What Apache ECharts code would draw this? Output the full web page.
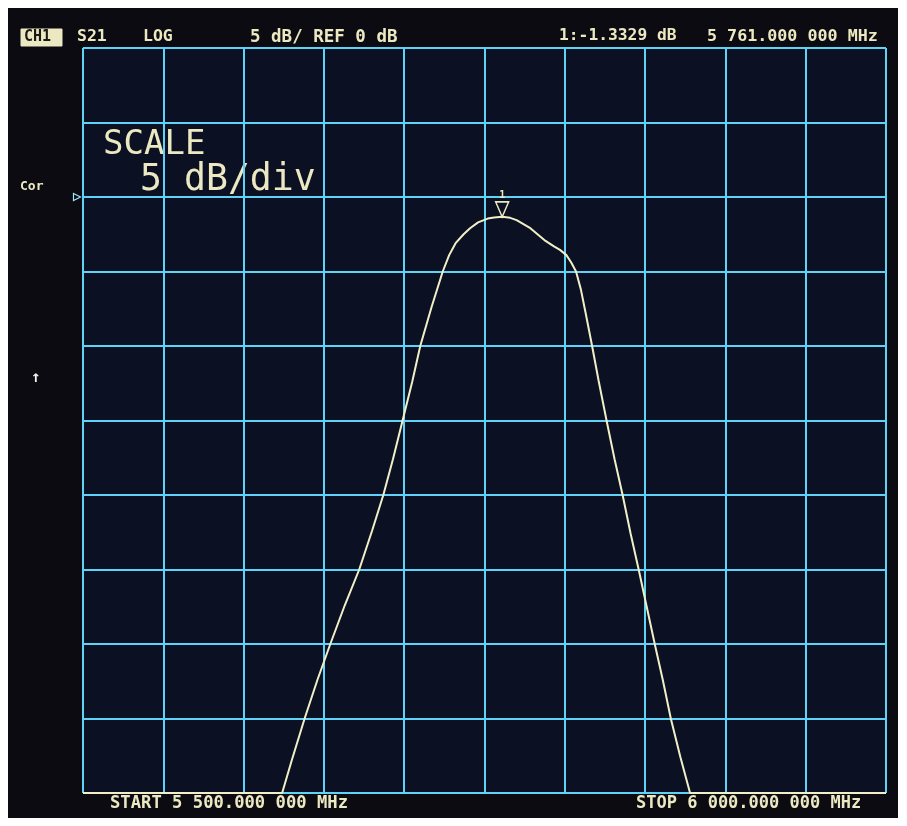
<!DOCTYPE html>
<html>
<head>
<meta charset="utf-8">
<script src="https://cdn.jsdelivr.net/npm/echarts@6/dist/echarts.min.js"></script>
<style>
  html, body { margin: 0; padding: 0; background: #ffffff; }
  #chart { width: 907px; height: 826px; }
</style>
</head>
<body>
<div id="chart"></div>
<script>
// S21 sweep, 5500–6000 MHz, log magnitude in dB (display floor -40 dB)
const freqMHz = [
  5500, 5550, 5600, 5624, 5630, 5638, 5646, 5654, 5663, 5672, 5680, 5687,
  5693, 5699, 5705, 5710, 5717, 5724, 5728, 5732, 5737, 5741, 5746, 5752,
  5756, 5761, 5766, 5770, 5774, 5778, 5783, 5788, 5793, 5797, 5801, 5804,
  5807, 5810, 5813, 5817, 5821, 5826, 5831, 5836, 5841, 5846, 5851, 5856,
  5861, 5866, 5872, 5878, 5900, 5950, 6000
];
const s21dB = [
  -40, -40, -40, -40, -37.8, -35, -32.4, -30, -27.4, -25, -22.4, -20,
  -17.6, -15, -12.4, -10, -7.4, -5, -3.9, -3.1, -2.5, -2.1, -1.7, -1.45,
  -1.38, -1.3329, -1.4, -1.55, -1.8, -2.05, -2.5, -2.95, -3.3, -3.55, -3.9, -4.4,
  -5, -6.2, -7.8, -10, -12.3, -15, -17.6, -20, -22.6, -25, -27.5, -30,
  -32.4, -35, -37.6, -40, -40, -40, -40
];
// Marker 1
const markerFreq = 5761;
const markerDB = -1.3329;
// Axis settings: 5 dB/div, REF 0 dB
const yMin = -40, yMax = 10, yStep = 5;
const xMin = 5500, xMax = 6000, xStep = 50;
// Annotation texts
const headerTexts = ['S21', 'LOG', '5 dB/ REF 0 dB', '1:-1.3329 dB', '5 761.000 000 MHz'];
const footerTexts = ['START 5 500.000 000 MHz', 'STOP 6 000.000 000 MHz'];

const cream = '#ece9c2';
const cyan = '#5fd2f7';
const mono = '"DejaVu Sans Mono", "Liberation Mono", monospace';

const chart = echarts.init(document.getElementById('chart'));
const txt = (x, y, text, size) => ({
  type: 'text', left: x, top: y,
  style: { text, fill: cream, font: 'bold ' + size + 'px ' + mono }
});

chart.setOption({
  backgroundColor: '#ffffff',
  animation: false,
  graphic: [
    { type: 'rect', shape: { x: 8, y: 8, width: 890, height: 810 },
      style: { fill: '#0b0b11' }, z: -10 },
    { type: 'rect', shape: { x: 21, y: 29, width: 41, height: 17 },
      style: { fill: cream, stroke: cream } },
    { type: 'text', left: 24, top: 30,
      style: { text: 'CH1', fill: '#1a1a14', font: 'bold 15px ' + mono } },
    txt(77, 28, headerTexts[0], 16.5),
    txt(143, 28, headerTexts[1], 16.5),
    txt(250, 28, headerTexts[2], 17.5),
    txt(559, 28, headerTexts[3], 16.3),
    txt(707, 28, headerTexts[4], 16.7),
    txt(110, 795, footerTexts[0], 17.2),
    txt(636, 795, footerTexts[1], 17),
    txt(20, 180, 'Cor', 13),
    { type: 'text', left: 31, top: 370,
      style: { text: '↑', fill: '#f4f4ee', font: 'bold 16px ' + mono } },
    { type: 'text', left: 103, top: 128,
      style: { text: 'SCALE', fill: cream, font: '34px ' + mono } },
    { type: 'text', left: 140, top: 162,
      style: { text: '5 dB/div', fill: cream, font: '36.5px ' + mono } }
  ],
  grid: {
    left: 83, top: 48, width: 803, height: 745,
    show: true, backgroundColor: '#0b1022', borderWidth: 0
  },
  xAxis: {
    type: 'value', min: xMin, max: xMax, interval: xStep,
    axisLabel: { show: false }, axisTick: { show: false },
    axisLine: { show: false },
    splitLine: { show: true, lineStyle: { color: cyan, width: 2 } }
  },
  yAxis: {
    type: 'value', min: yMin, max: yMax, interval: yStep,
    axisLabel: { show: false }, axisTick: { show: false },
    axisLine: { show: false },
    splitLine: { show: true, lineStyle: { color: cyan, width: 2 } }
  },
  series: [{
    type: 'line',
    data: freqMHz.map((f, i) => [f, s21dB[i]]),
    showSymbol: false,
    smooth: false,
    z: 5,
    lineStyle: { color: '#f1efc8', width: 2 },
    markPoint: {
      silent: true,
      data: [
        {
          coord: [markerFreq, markerDB],
          symbol: 'path://M0,0 L14,0 L7,15 Z',
          symbolSize: [13, 15],
          symbolOffset: [0, '-50%'],
          itemStyle: { color: 'rgba(0,0,0,0)', borderColor: cream, borderWidth: 1.5 },
          label: { show: true, formatter: '1', position: 'top', distance: 1,
                   color: cream, fontSize: 10, fontFamily: mono, fontWeight: 'bold' }
        },
        {
          coord: [xMin, 0],
          symbol: 'path://M0,0 L10,5 L0,10 Z',
          symbolSize: [7, 7],
          symbolOffset: [-6, 0],
          itemStyle: { color: 'rgba(0,0,0,0)', borderColor: '#9fe6ff', borderWidth: 1.2 },
          label: { show: false }
        }
      ]
    }
  }]
});
</script>
</body>
</html>
